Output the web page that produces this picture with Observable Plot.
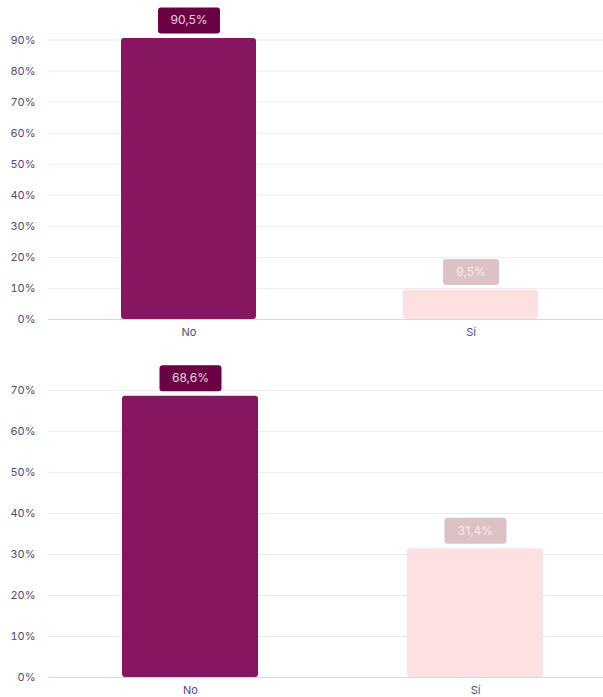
<!DOCTYPE html>
<html><head><meta charset="utf-8">
<script src="https://cdn.jsdelivr.net/npm/d3@7"></script>
<script src="https://cdn.jsdelivr.net/npm/@observablehq/plot@0.6"></script>
<style>
body{margin:0;background:#fff;font-family:Inter,"Noto Sans",sans-serif;}
#c1,#c2{display:block;}
#c2{margin-top:7px;}
</style></head><body>
<div id="c1"></div><div id="c2"></div>
<script>
const categories = ["No", "Sí"];
const values1 = [0.905, 0.095];
const values2 = [0.686, 0.314];
const labels1 = ["90,5%", "9,5%"];
const labels2 = ["68,6%", "31,4%"];
const ticks1 = [0, 0.1, 0.2, 0.3, 0.4, 0.5, 0.6, 0.7, 0.8, 0.9];
const ticks2 = [0, 0.1, 0.2, 0.3, 0.4, 0.5, 0.6, 0.7];

const barColors = {"No": "#84175f", "Sí": "#fde0e1"};
const boxColors = {"No": "#6a0043", "Sí": "#dcc2c4"};
const txtColors = {"No": "#ead6e3", "Sí": "#f6eced"};

function roundRect(w, h, r) {
  return {draw(ctx) {
    const x0 = -w/2, y0 = -h/2, x1 = w/2, y1 = h/2;
    ctx.moveTo(x0 + r, y0);
    ctx.lineTo(x1 - r, y0);
    ctx.arcTo(x1, y0, x1, y0 + r, r);
    ctx.lineTo(x1, y1 - r);
    ctx.arcTo(x1, y1, x1 - r, y1, r);
    ctx.lineTo(x0 + r, y1);
    ctx.arcTo(x0, y1, x0, y1 - r, r);
    ctx.lineTo(x0, y0 + r);
    ctx.arcTo(x0, y0, x0 + r, y0, r);
    ctx.closePath();
  }};
}

function chart(values, labels, ticks, ymax, xopts, marginBottom, tickPad) {
  const data = categories.map((c, i) => ({cat: c, v: values[i], label: labels[i]}));
  const boxes = data.map(d => Plot.dot([d], {
    x: "cat", y: "v", dy: -18,
    symbol: roundRect(6 * d.label.length + 32, 26, 3),
    fill: boxColors[d.cat], stroke: "none", r: 10
  }));
  return Plot.plot({
    width: 603, height: 345,
    marginLeft: 48, marginRight: 0, marginTop: 38, marginBottom,
    style: {fontFamily: "Inter, 'Noto Sans', sans-serif", fontSize: "11px", color: "#4b4a7c", background: "#fff"},
    x: {domain: categories, label: null, tickSize: 0, tickPadding: tickPad, ...xopts},
    y: {domain: [0, ymax], ticks, tickFormat: d => Math.round(d * 100) + "%", label: null, tickSize: 0, tickPadding: 13},
    marks: [
      Plot.ruleY(ticks.filter(t => t > 0), {stroke: "#ececec", strokeWidth: 1, strokeOpacity: 1}),
      Plot.barY(data, {x: "cat", y: "v", fill: d => barColors[d.cat], rx: 3}),
      Plot.ruleY([0], {stroke: "#d7d4e6", strokeWidth: 1}),
      ...boxes,
      Plot.text(data, {x: "cat", y: "v", dy: -18, text: "label", fill: d => txtColors[d.cat], fontSize: 12})
    ]
  });
}

document.getElementById("c1").append(chart(values1, labels1, ticks1, 0.905,
  {paddingInner: 0.521, paddingOuter: 0.244, align: 0.53}, 26, 9));
document.getElementById("c2").append(chart(values2, labels2, ticks2, 0.7,
  {paddingInner: 0.523, paddingOuter: 0.235, align: 0.55}, 20, 9));
</script>
</body></html>
